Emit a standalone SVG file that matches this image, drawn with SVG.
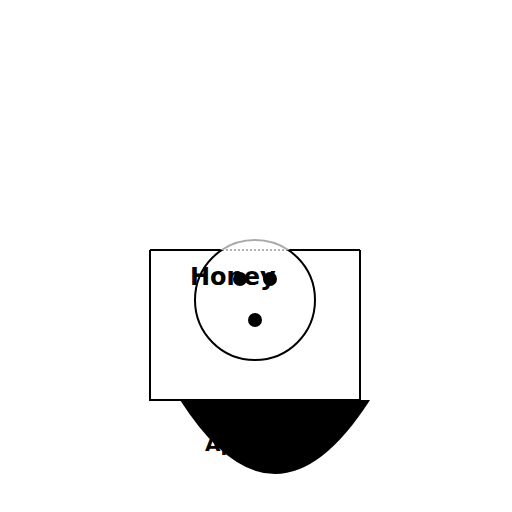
<svg xmlns="http://www.w3.org/2000/svg" width="512" height="512" viewBox="0 0 512 512">
<style>
.lbl{font-family:"DejaVu Sans","Liberation Sans",sans-serif;font-weight:bold;fill:#000}
</style>
<defs>
<clipPath id="below"><rect x="0" y="250" width="512" height="262"/></clipPath>
<clipPath id="above"><rect x="0" y="0" width="512" height="250"/></clipPath>
</defs>
<rect width="512" height="512" fill="#fff"/>
<g id="box">
<path d="M150,250 L222,250 M288,250 L360,250 M360,250 L360,400 L150,400 L150,250" fill="none" stroke="#000" stroke-width="2"/>
<line x1="222" y1="250" x2="288" y2="250" stroke="#999" stroke-width="1.5" stroke-dasharray="2,2"/>
</g>
<g id="label-a">
<text class="lbl" x="205" y="451" font-size="20">Apple</text>
</g>
<g id="bowl">
<path d="M180,400 Q275,548 370,400 Z" fill="#000"/>
</g>
<g id="circle">
<circle cx="255" cy="300" r="60" fill="none" stroke="#000" stroke-width="2" clip-path="url(#below)"/>
<circle cx="255" cy="300" r="60" fill="none" stroke="#aaa" stroke-width="2" clip-path="url(#above)"/>
</g>
<g id="honey">
<text class="lbl" x="190" y="285" font-size="24">Honey</text>
</g>
<g id="dots">
<circle cx="240" cy="279" r="7" fill="#000"/>
<circle cx="270" cy="279" r="7" fill="#000"/>
<circle cx="255" cy="320" r="7" fill="#000"/>
</g>
</svg>
